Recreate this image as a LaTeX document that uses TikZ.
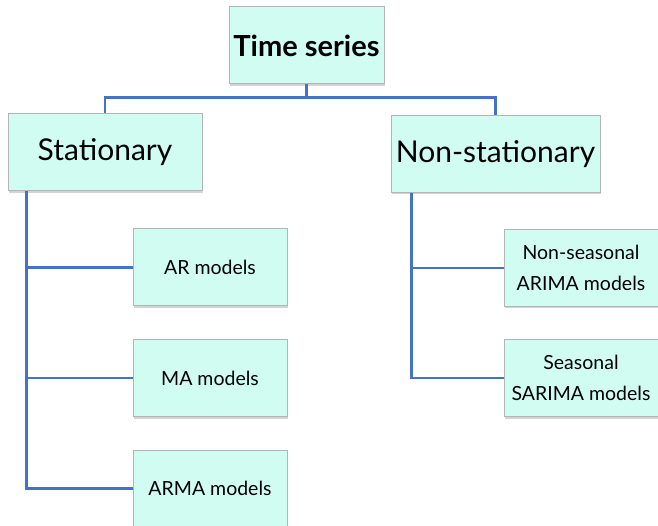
\documentclass[tikz,border=0pt]{standalone}
\usepackage{fontspec}
\setmainfont{Lato}
\usetikzlibrary{shadows}
\definecolor{boxfill}{RGB}{208,252,242}
\definecolor{boxline}{RGB}{180,180,180}
\definecolor{linkblue}{RGB}{68,114,196}
\tikzset{
  topic/.style={draw=boxline, fill=boxfill, line width=1pt, minimum height=77pt,
    inner sep=2pt, align=center,
    drop shadow={opacity=0.35, shadow xshift=1pt, shadow yshift=-2pt}},
  model/.style={topic, minimum width=154pt, font=\fontsize{19.5}{31}\selectfont},
  link/.style={draw=linkblue, line width=2.4pt},
}
\begin{document}
\begin{tikzpicture}[x=1pt, y=-1pt]
    \useasboundingbox (0,0) rectangle (658,526);

    \node[topic, minimum width=155pt, font=\bfseries\fontsize{29}{32}\selectfont] (ts) at (306.5, 45.5) {Time series};

    \node[topic, minimum width=194pt, font=\fontsize{30}{34}\selectfont] (st) at (105, 152.5) {Stationary};
    \node[topic, minimum width=209pt, font=\fontsize{30}{34}\selectfont] (ns) at (495.5, 154) {Non-stationary};

    \node[model] (ar) at (210, 267.5) {AR models};
    \node[model] (ma) at (210, 378) {MA models};
    \node[model] (arma) at (210, 488.5) {ARMA models};

    \node[model] (nsa) at (581, 268) {Non-seasonal\\ARIMA models};
    \node[model] (sa) at (581, 378) {Seasonal\\SARIMA models};

    \coordinate (stfoot) at ([xshift=19pt]st.south west);
    \coordinate (nsfoot) at ([xshift=21pt]ns.south west);

    % Links
    \draw[link] (ts.south) -- ++(0,13) -| (st.north);
    \draw[link] (ts.south) -- ++(0,13) -| (ns.north);

    \draw[link] (stfoot) |- (ar.west);
    \draw[link] (stfoot) |- (ma.west);
    \draw[link] (stfoot) |- (arma.west);

    \draw[link] (nsfoot) |- (nsa.west);
    \draw[link] (nsfoot) |- (sa.west);
\end{tikzpicture}
\end{document}
